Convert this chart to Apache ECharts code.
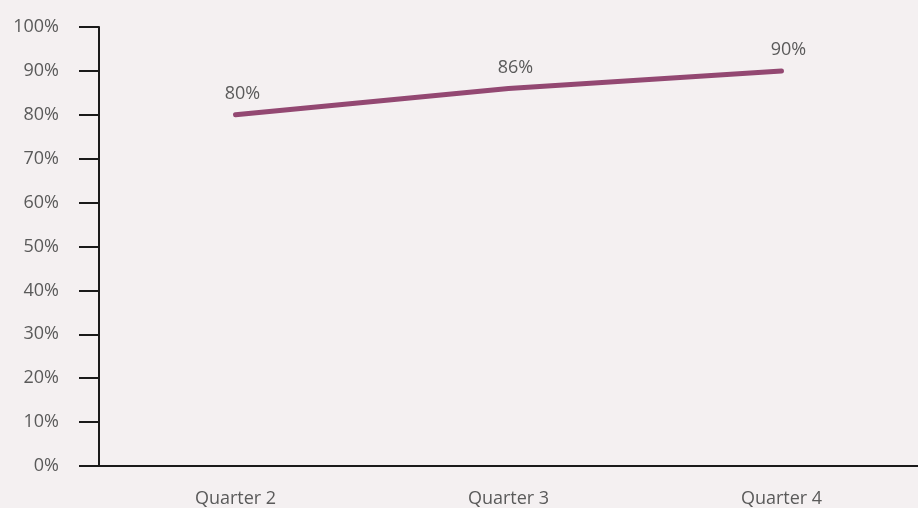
<!DOCTYPE html>
<html>
<head>
<meta charset="utf-8">
<script src="https://cdn.jsdelivr.net/npm/echarts@6/dist/echarts.min.js"></script>
<style>
  html, body { margin: 0; padding: 0; background: #f4f0f1; }
  #chart { width: 918px; height: 508px; }
</style>
</head>
<body>
<div id="chart"></div>
<script>
// Quarterly share, in percent
const quarters = ['Quarter 2', 'Quarter 3', 'Quarter 4'];
const shareValues = [80, 86, 90];
const yTicks = [0, 10, 20, 30, 40, 50, 60, 70, 80, 90, 100];

const textColor = '#5a5a5a';
const fontFamily = '"Open Sans", Lato, sans-serif';
const fontSize = 18;

const chart = echarts.init(document.getElementById('chart'));
chart.setOption({
  backgroundColor: '#f4f0f1',
  animation: false,
  grid: { left: 99, right: 0, top: 27, bottom: 42, containLabel: false, outerBoundsMode: 'none' },
  xAxis: {
    type: 'category',
    data: quarters,
    boundaryGap: true,
    axisLine: { lineStyle: { color: '#1a1a1a', width: 2 } },
    axisTick: { show: false },
    axisLabel: { color: textColor, fontSize, fontFamily, margin: 24 }
  },
  yAxis: {
    type: 'value',
    min: yTicks[0],
    max: yTicks[yTicks.length - 1],
    interval: yTicks[1] - yTicks[0],
    splitLine: { show: false },
    axisLine: { show: true, lineStyle: { color: '#1a1a1a', width: 2 } },
    axisTick: { show: true, length: 20, lineStyle: { color: '#1a1a1a', width: 2 } },
    axisLabel: { color: textColor, fontSize, fontFamily, margin: 40, formatter: '{value}%' }
  },
  series: [{
    type: 'line',
    data: shareValues,
    symbol: 'circle',
    symbolSize: 2,
    showSymbol: true,
    itemStyle: { color: 'rgba(0,0,0,0)', borderWidth: 0 },
    lineStyle: { color: '#934872', width: 5, cap: 'round' },
    label: {
      show: true,
      position: 'top',
      distance: 11,
      offset: [7, 0],
      color: textColor,
      fontSize,
      fontFamily,
      formatter: p => p.value + '%'
    }
  }]
});
</script>
</body>
</html>
